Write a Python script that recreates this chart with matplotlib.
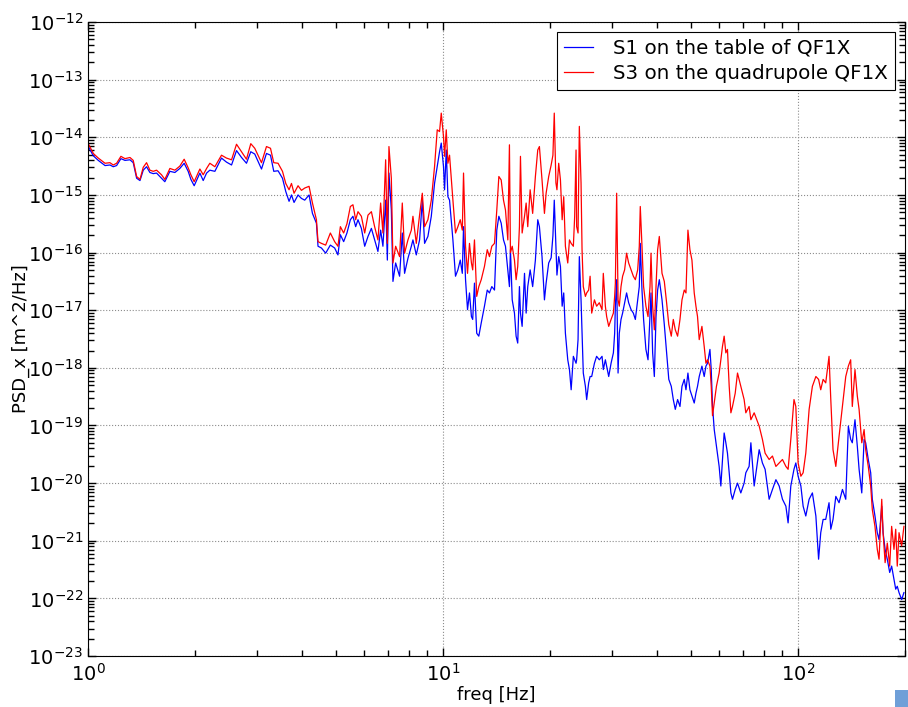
import numpy as np
import matplotlib
matplotlib.use('Agg')
import matplotlib.pyplot as plt
from matplotlib.ticker import LogLocator, NullFormatter
from matplotlib.patches import Rectangle

# frequency axis [Hz]
freq = [
    1.002, 1.035, 1.069, 1.117, 1.153, 1.178, 1.204, 1.238, 1.271, 1.313,
    1.341, 1.371, 1.401, 1.431, 1.462, 1.494, 1.527, 1.560, 1.611, 1.646,
    1.701, 1.757, 1.814, 1.866, 1.915, 1.949, 1.991, 2.066, 2.111, 2.158,
    2.204, 2.277, 2.377, 2.455, 2.537, 2.620, 2.707, 2.795, 2.874, 2.949,
    3.081, 3.182, 3.266, 3.336, 3.430, 3.530, 3.606, 3.684, 3.742, 3.805,
    3.905, 3.992, 4.078, 4.194, 4.287, 4.399, 4.445, 4.544, 4.671, 4.815,
    4.951, 5.058, 5.138, 5.249, 5.362, 5.482, 5.575, 5.674, 5.760, 5.888,
    6.016, 6.146, 6.283, 6.416, 6.555, 6.671, 6.771, 6.892, 6.968, 7.041,
    7.151, 7.226, 7.353, 7.544, 7.677, 7.792, 7.964, 8.141, 8.226, 8.407,
    8.588, 8.741, 8.872, 9.064, 9.266, 9.463, 9.630, 9.776, 9.884, 10.03,
    10.10, 10.21, 10.32, 10.43, 10.66, 10.84, 11.01, 11.18, 11.33, 11.42,
    11.57, 11.72, 11.87, 12.02, 12.12, 12.26, 12.44, 12.61, 12.81, 13.08,
    13.32, 13.51, 13.72, 13.96, 14.17, 14.36, 14.58, 14.80, 14.99, 15.22,
    15.38, 15.48, 15.66, 15.89, 16.06, 16.23, 16.41, 16.52, 16.70, 16.96,
    17.14, 17.32, 17.59, 17.88, 18.20, 18.48, 18.68, 19.00, 19.30, 19.51,
    19.84, 20.16, 20.39, 20.57, 20.79, 20.93, 21.17, 21.41, 21.65, 21.87,
    22.11, 22.45, 22.70, 22.95, 23.28, 23.48, 23.69, 23.78, 24.00, 24.20,
    24.47, 24.63, 24.83, 25.17, 25.38, 25.71, 25.95, 26.22, 26.69, 27.07,
    27.55, 28.04, 28.27, 28.65, 28.89, 29.28, 29.73, 30.18, 30.43, 30.57,
    30.83, 31.11, 31.36, 31.71, 32.04, 32.46, 32.88, 33.32, 33.85, 34.35,
    34.80, 35.33, 35.70, 35.93, 36.33, 36.71, 37.27, 37.78, 38.27, 38.52,
    38.93, 39.36, 39.79, 40.21, 40.65, 41.37, 41.99, 42.62, 43.23, 43.93,
    44.51, 45.09, 45.77, 46.48, 47.09, 47.79, 48.32, 48.94, 49.58, 50.23,
    50.98, 51.55, 52.08, 52.66, 53.59, 54.39, 55.00, 55.58, 56.45, 56.92,
    57.40, 58.04, 58.88, 59.92, 60.59, 61.22, 61.90, 62.58, 63.24, 63.96,
    64.66, 65.34, 66.50, 67.50, 68.96, 70.46, 71.24, 72.77, 73.61, 75.20,
    77.68, 79.33, 80.73, 82.87, 84.67, 86.58, 88.44, 90.35, 92.37, 93.71,
    95.37, 97.35, 98.52, 100.0, 101.8, 103.3, 105.1, 107.4, 109.7, 112.2,
    114.2, 115.8, 117.6, 119.6, 122.2, 123.6, 125.4, 127.7, 130.4, 133.3,
    136.2, 138.5, 140.6, 142.1, 144.6, 146.8, 148.5, 151.1, 153.4, 155.0,
    157.6, 160.1, 161.8, 164.6, 167.1, 169.0, 172.0, 173.5, 175.8, 178.3,
    181.1, 183.4, 186.2, 188.3, 190.2, 192.4, 195.7, 198.6,
]

# log10 of PSD_x [m^2/Hz], sensor S1 (table)
s1_log = [
    -14.16, -14.32, -14.40, -14.49, -14.48, -14.51, -14.49, -14.37, -14.40, -14.39,
    -14.44, -14.71, -14.75, -14.57, -14.51, -14.61, -14.63, -14.62, -14.71, -14.77,
    -14.59, -14.61, -14.54, -14.45, -14.59, -14.73, -14.84, -14.62, -14.75, -14.62,
    -14.57, -14.59, -14.36, -14.43, -14.48, -14.23, -14.35, -14.45, -14.25, -14.29,
    -14.55, -14.28, -14.31, -14.59, -14.58, -14.71, -14.94, -15.11, -15.00, -15.13,
    -15.00, -15.06, -15.09, -15.00, -15.32, -15.49, -15.89, -15.92, -16.01, -15.87,
    -15.92, -16.04, -15.69, -15.81, -15.66, -15.43, -15.37, -15.55, -15.43, -15.58,
    -15.89, -15.72, -15.58, -15.78, -15.98, -15.61, -15.89, -15.09, -16.13, -14.62,
    -15.26, -16.50, -16.18, -16.41, -15.66, -16.36, -16.10, -15.89, -15.78, -16.04,
    -15.78, -15.09, -15.84, -15.72, -15.37, -14.80, -14.51, -14.25, -14.10, -14.51,
    -14.91, -14.22, -15.03, -15.09, -15.78, -16.41, -16.30, -16.13, -16.36, -15.55,
    -16.47, -16.99, -16.70, -17.11, -17.16, -16.53, -17.40, -17.45, -17.22, -16.93,
    -16.65, -16.70, -16.59, -16.65, -15.61, -15.37, -15.49, -15.78, -15.89, -16.30,
    -16.59, -15.95, -16.82, -17.05, -17.45, -17.57, -16.59, -17.05, -17.28, -16.36,
    -17.05, -16.59, -16.30, -16.59, -16.13, -15.43, -15.55, -16.07, -16.82, -16.53,
    -16.18, -16.09, -15.71, -15.09, -15.87, -16.39, -16.07, -16.24, -16.93, -16.70,
    -17.40, -17.86, -18.03, -18.38, -17.80, -17.86, -17.92, -17.86, -17.51, -16.07,
    -16.82, -17.40, -18.09, -18.32, -18.55, -18.26, -18.15, -18.15, -17.92, -17.80,
    -17.86, -17.80, -18.03, -17.86, -17.97, -18.15, -17.92, -17.74, -17.40, -16.93,
    -16.47, -18.09, -17.40, -17.16, -17.05, -16.87, -16.70, -16.87, -16.99, -17.05,
    -17.16, -16.82, -16.59, -15.84, -16.65, -17.16, -17.68, -17.86, -17.11, -16.70,
    -17.74, -18.15, -17.11, -16.65, -16.47, -16.82, -17.25, -17.74, -18.20, -18.32,
    -18.55, -18.72, -18.55, -18.67, -18.32, -18.20, -18.38, -18.09, -18.38, -18.49,
    -18.61, -18.44, -18.32, -18.15, -17.97, -18.15, -17.97, -17.92, -17.68, -18.03,
    -18.66, -19.07, -19.36, -19.71, -20.05, -19.59, -19.13, -19.30, -19.48, -19.82,
    -20.17, -20.28, -20.11, -20.00, -20.17, -20.00, -19.82, -19.71, -19.30, -20.05,
    -19.42, -19.65, -19.76, -20.28, -20.11, -19.94, -20.05, -20.28, -20.40, -20.69,
    -20.05, -19.76, -19.65, -19.88, -20.05, -20.40, -20.57, -20.28, -20.17, -20.57,
    -21.32, -20.86, -20.63, -20.63, -20.34, -20.80, -20.63, -20.23, -20.34, -20.11,
    -20.28, -19.01, -19.24, -19.30, -18.90, -19.36, -19.76, -20.17, -19.24, -19.30,
    -19.59, -19.82, -20.28, -20.57, -20.86, -20.98, -20.40, -20.86, -21.15, -21.32,
    -21.55, -21.44, -21.67, -21.84, -21.79, -21.90, -22.02, -21.90,
]

# log10 of PSD_x [m^2/Hz], sensor S3 (quadrupole)
s3_log = [
    -14.11, -14.28, -14.36, -14.45, -14.44, -14.48, -14.45, -14.33, -14.37, -14.35,
    -14.40, -14.68, -14.73, -14.52, -14.44, -14.57, -14.59, -14.57, -14.65, -14.73,
    -14.54, -14.57, -14.50, -14.38, -14.53, -14.65, -14.77, -14.55, -14.65, -14.54,
    -14.45, -14.51, -14.31, -14.36, -14.39, -14.12, -14.25, -14.38, -14.11, -14.19,
    -14.44, -14.16, -14.19, -14.44, -14.45, -14.59, -14.80, -14.91, -14.80, -14.97,
    -14.84, -14.92, -14.88, -14.85, -15.14, -15.43, -15.81, -15.84, -15.87, -15.66,
    -15.81, -15.89, -15.55, -15.66, -15.50, -15.20, -15.17, -15.43, -15.29, -15.37,
    -15.66, -15.35, -15.29, -15.55, -15.78, -15.14, -15.66, -14.39, -15.84, -14.16,
    -14.71, -16.18, -15.89, -16.07, -15.14, -16.01, -15.78, -15.61, -15.37, -15.84,
    -15.35, -14.97, -15.55, -15.43, -15.09, -14.51, -13.87, -13.90, -13.58, -13.99,
    -14.33, -13.87, -14.45, -14.31, -15.09, -15.66, -15.55, -15.43, -15.61, -14.62,
    -15.89, -16.36, -15.84, -16.18, -16.30, -15.78, -16.76, -16.59, -16.47, -16.24,
    -15.95, -16.07, -15.89, -15.84, -15.26, -14.68, -14.74, -15.09, -15.26, -15.78,
    -14.13, -16.00, -15.89, -16.13, -16.47, -16.24, -15.55, -14.33, -15.66, -15.37,
    -15.14, -15.55, -14.91, -15.32, -14.68, -14.22, -14.16, -14.74, -15.32, -14.97,
    -14.68, -14.48, -14.31, -13.58, -14.79, -14.91, -14.45, -14.74, -15.43, -15.03,
    -15.89, -16.18, -15.78, -15.84, -15.89, -15.37, -14.22, -15.55, -15.66, -13.81,
    -14.79, -15.95, -16.59, -16.76, -16.70, -16.65, -16.41, -17.05, -16.82, -16.93,
    -16.87, -16.99, -16.36, -16.93, -17.11, -17.28, -17.16, -17.05, -16.76, -16.53,
    -14.97, -16.82, -16.93, -16.59, -16.41, -16.30, -16.01, -16.18, -16.30, -16.41,
    -16.47, -16.30, -15.89, -15.20, -15.89, -16.59, -16.93, -17.11, -16.59, -16.01,
    -16.93, -17.34, -16.59, -15.95, -15.72, -16.36, -16.50, -16.87, -17.25, -17.45,
    -17.16, -17.34, -17.45, -17.16, -16.82, -16.65, -16.70, -15.61, -15.95, -16.13,
    -16.70, -16.93, -17.11, -17.51, -17.28, -17.63, -17.92, -17.86, -17.97, -18.32,
    -18.83, -18.61, -18.32, -18.09, -17.86, -17.63, -17.45, -17.74, -17.68, -18.32,
    -18.78, -18.67, -18.44, -18.09, -18.32, -18.55, -18.78, -18.67, -18.90, -18.78,
    -19.01, -19.24, -19.48, -19.59, -19.53, -19.71, -19.65, -19.59, -19.71, -19.76,
    -19.24, -18.55, -18.67, -19.65, -19.88, -19.82, -19.48, -18.72, -18.32, -18.15,
    -18.20, -18.38, -18.20, -18.26, -17.80, -18.55, -19.42, -19.71, -19.19, -18.67,
    -18.15, -17.97, -17.86, -18.67, -18.03, -18.49, -18.72, -19.30, -19.07, -19.42,
    -19.71, -20.05, -20.46, -20.75, -21.15, -21.32, -20.28, -20.86, -21.38, -21.04,
    -21.44, -20.75, -21.15, -20.80, -21.44, -20.86, -21.09, -20.75,
]

psd_s1 = 10.0 ** np.array(s1_log)
psd_s3 = 10.0 ** np.array(s3_log)

fig = plt.figure(figsize=(9.08, 7.07), dpi=100)
ax = fig.add_axes([0.0969, 0.0721, 0.8998, 0.8967])

ax.loglog(freq, psd_s1, color='#0000ff', lw=0.9, label='S1 on the table of QF1X')
ax.loglog(freq, psd_s3, color='#ff0000', lw=0.9, label='S3 on the quadrupole QF1X')

ax.set_xlim(1, 200)
ax.set_ylim(1e-23, 1e-12)

ax.yaxis.set_major_locator(LogLocator(base=10, numticks=20))
ax.yaxis.set_minor_locator(LogLocator(base=10, subs=np.arange(2, 10), numticks=200))
ax.yaxis.set_minor_formatter(NullFormatter())
ax.xaxis.set_minor_locator(LogLocator(base=10, subs=np.arange(2, 10), numticks=50))
ax.xaxis.set_minor_formatter(NullFormatter())

ax.tick_params(which='both', direction='in', top=True, right=True, labelsize=14)
ax.tick_params(which='major', length=6, width=1)
ax.tick_params(which='minor', length=4, width=1)
ax.tick_params(axis='x', pad=5)

ax.grid(True, which='major', ls=':', color='0.55', lw=0.8)

ax.set_xlabel('freq [Hz]', fontsize=13, labelpad=1)
ax.set_ylabel('PSD_x [m^2/Hz]', fontsize=13, labelpad=-1)

leg = ax.legend(loc='upper right', fontsize=14.3, fancybox=False, framealpha=1,
                edgecolor='black', handlelength=1.5, handletextpad=1.0,
                borderaxespad=0.5, borderpad=0.35, labelspacing=0.3)
leg.get_frame().set_linewidth(0.8)

# little blue marker in the lower right corner of the screenshot
fig.add_artist(Rectangle((895 / 908, 0), 13 / 908, 17 / 707,
                         transform=fig.transFigure, color='#6f9fd8', lw=0))

fig.savefig('out.png', dpi=100)
